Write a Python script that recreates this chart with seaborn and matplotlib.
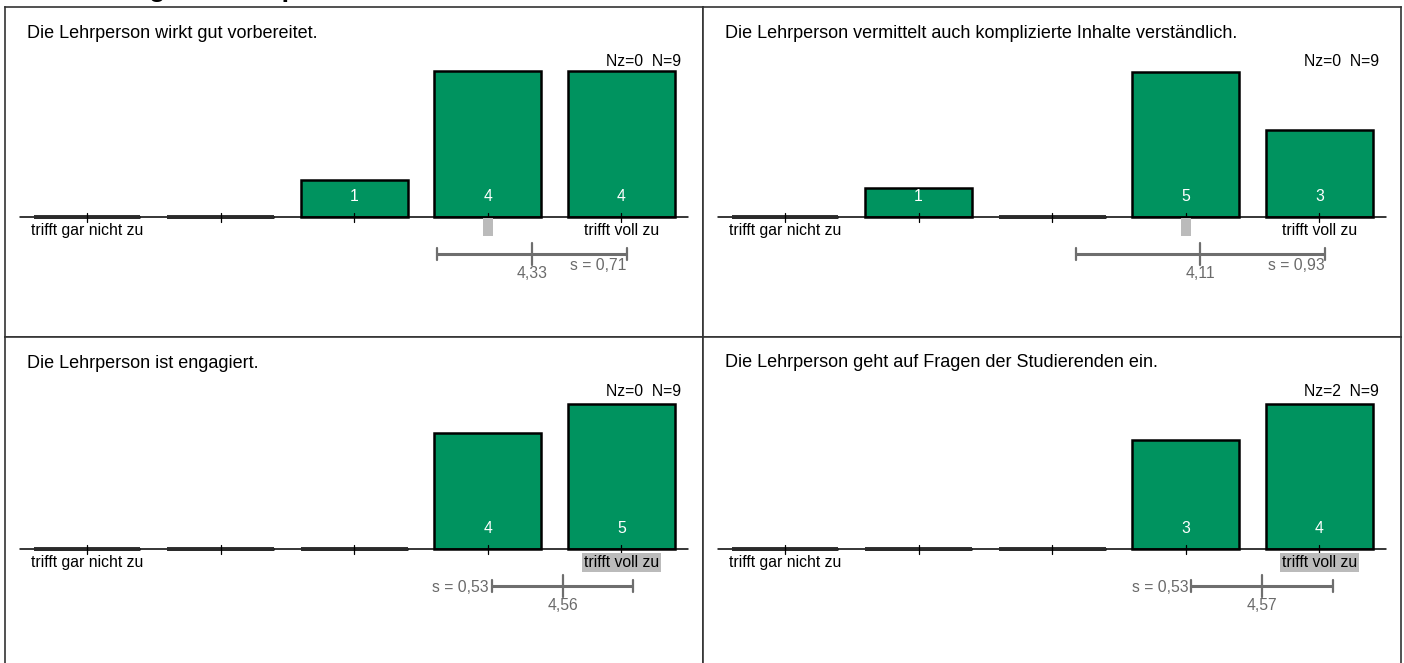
import matplotlib
matplotlib.use("Agg")
import matplotlib.pyplot as plt
from matplotlib.patches import Rectangle
import seaborn as sns
import numpy as np

# ---------------- data ----------------
section_title = "Beurteilung der Lehrperson"
questions = [
    "Die Lehrperson wirkt gut vorbereitet.",
    "Die Lehrperson vermittelt auch komplizierte Inhalte verständlich.",
    "Die Lehrperson ist engagiert.",
    "Die Lehrperson geht auf Fragen der Studierenden ein.",
]
categories = ["1", "2", "3", "4", "5"]
counts_q1 = [0, 0, 1, 4, 4]
counts_q2 = [0, 1, 0, 5, 3]
counts_q3 = [0, 0, 0, 4, 5]
counts_q4 = [0, 0, 0, 3, 4]
means = [4.33, 4.11, 4.56, 4.57]
stds = [0.71, 0.93, 0.53, 0.53]
medians = [4, 4, 5, 5]
nz_values = [0, 0, 0, 2]
n_values = [9, 9, 9, 9]
scale_labels = ["trifft gar nicht zu", "", "", "", "trifft voll zu"]
all_counts = [counts_q1, counts_q2, counts_q3, counts_q4]

# ---------------- style ----------------
W, H = 1404, 663
GREEN = "#00935F"
GREY_LINE = "#6E6E6E"
GREY_TXT = "#6A6A6A"
MED_GREY = "#BBBBBB"
FS = 11.3

sns.set_style("white")
plt.rcParams["font.family"] = ["Liberation Sans", "DejaVu Sans"]

fig = plt.figure(figsize=(W / 100, H / 100), dpi=100)

# panel layout in pixels: (left, top, baseline)
panels = [(5, 7, 216.5), (703, 7, 216.5), (5, 337, 548.5), (703, 337, 548.5)]
PW, PH = 698, 330
OFF0, STEP = 82, 133.6
MAXH = 145.0
s_label_right = [True, True, False, False]

for i, (x0, yt, base) in enumerate(panels):
    counts = all_counts[i]
    mx = max(counts)
    k = mx / MAXH
    ax = fig.add_axes([x0 / W, 1 - (yt + PH) / H, PW / W, PH / H])

    def ypx(py, base=base, k=k):
        return (base - py) * k

    def xpx(px, x0=x0):
        return (px - (x0 + OFF0)) / STEP

    sns.barplot(x=categories, y=counts, ax=ax, color=GREEN, saturation=1,
                edgecolor="black", linewidth=1.8, width=0.8, order=categories)
    ax.set_xlim(-OFF0 / STEP, (PW - OFF0) / STEP)
    ax.set_ylim(ypx(yt + PH), ypx(yt))
    ax.set_xticks([])
    ax.set_yticks([])
    ax.set_xlabel("")
    ax.set_ylabel("")
    for sp in ax.spines.values():
        sp.set_visible(True)
        sp.set_color("#333333")
        sp.set_linewidth(1.2)

    # baseline
    ax.plot([-0.5, 4.5], [0, 0], color="black", lw=1.1, zorder=3)
    for j, c in enumerate(counts):
        if c == 0:
            ax.plot([j - 0.4, j + 0.4], [0, 0], color="#2A2A2A", lw=2.8,
                    solid_capstyle="butt", zorder=4)
        ax.plot([j, j], [ypx(base - 4), ypx(base + 5)], color="black", lw=0.9,
                zorder=5)
        if c > 0:
            ax.text(j, ypx(base - 20), str(c), color="white", fontsize=FS,
                    ha="center", va="center", zorder=6)

    # scale labels & median
    med = medians[i] - 1
    for j, lab in enumerate(scale_labels):
        if lab:
            bbox = None
            if j == med:
                bbox = dict(boxstyle="square,pad=0.12", fc=MED_GREY, ec="none")
            ax.text(j, ypx(base + 14), lab, fontsize=FS, ha="center",
                    va="center", color="black", bbox=bbox, zorder=6)
    if not scale_labels[med]:
        ax.add_patch(Rectangle((med - 5 / STEP, ypx(base + 19.5)),
                               10 / STEP, ypx(base + 1) - ypx(base + 19.5),
                               facecolor=MED_GREY, edgecolor="none", zorder=6))

    # mean / std bar
    m, s = means[i] - 1, stds[i]
    ly = base + 37.5
    ax.plot([m - s, m + s], [ypx(ly), ypx(ly)], color=GREY_LINE, lw=2.2,
            solid_capstyle="butt", zorder=5)
    for xe in (m - s, m + s):
        ax.plot([xe, xe], [ypx(ly - 6), ypx(ly + 6)], color=GREY_LINE, lw=1.6,
                zorder=5)
    ax.plot([m, m], [ypx(ly - 11), ypx(ly + 11)], color=GREY_LINE, lw=1.6,
            zorder=5)
    mean_txt = f"{means[i]:.2f}".replace(".", ",")
    s_txt = "s = " + f"{stds[i]:.2f}".replace(".", ",")
    ax.text(m, ypx(ly + 20), mean_txt, color=GREY_TXT, fontsize=FS,
            ha="center", va="center", zorder=6)
    if s_label_right[i]:
        ax.text(m + s, ypx(ly + 12), s_txt, color=GREY_TXT, fontsize=FS,
                ha="right", va="center", zorder=6)
    else:
        ax.text(m - s - 3 / STEP, ypx(ly + 1), s_txt, color=GREY_TXT,
                fontsize=FS, ha="right", va="center", zorder=6)

    # title and N info
    ax.text(xpx(x0 + 22), ypx(yt + 26), questions[i], fontsize=13,
            ha="left", va="center", color="black")
    ax.text(4.4 + 6 / STEP, ypx(yt + 54.7), f"Nz={nz_values[i]}  N={n_values[i]}",
            fontsize=FS, ha="right", va="center", color="black")

# partially visible section title at the very top (only descenders show)
fig.text(15 / W, 1 + 4.5 / H, section_title, fontsize=19.5, fontweight="bold",
         ha="left", va="baseline", color="black")

fig.savefig("out.png", dpi=100)
